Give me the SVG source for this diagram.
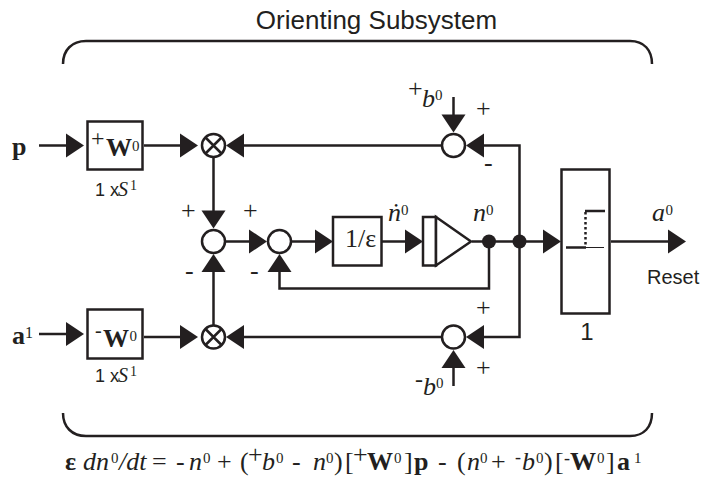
<svg xmlns="http://www.w3.org/2000/svg" width="713" height="481" viewBox="0 0 713 481">
<style>
text{fill:#231f20;font-family:"Liberation Serif",serif}
.s{font-family:"Liberation Sans",sans-serif}
.i{font-style:italic}
.b{font-weight:bold}
.m{font-size:26px}
.u{font-size:15px}
.p{font-size:26px}
.n{font-size:18px;font-family:"Liberation Sans",sans-serif}
.sh{fill:#fff;stroke:#231f20;stroke-width:2.5}
.ln{fill:none;stroke:#231f20;stroke-width:2.5}
.ar{fill:#231f20}
.dot{fill:#231f20}
</style>
<defs>
<polygon id="r" class="ar" points="0,-12 18,0 0,12"/>
<polygon id="l" class="ar" points="0,-12 -18,0 0,12"/>
<polygon id="d" class="ar" points="-12,0 0,18 12,0"/>
<polygon id="t" class="ar" points="-12,0 0,-18 12,0"/>
</defs>
<g id="connectors">
<path class="ln" d="M63,64C63,50 72,41 86,41H630C644,41 652,50 652,64"/>
<path class="ln" d="M63,413C63,427 72,436 86,436H630C644,436 652,427 652,413"/>
<path class="ln" d="M39,145.5H66M144,145.500H180M244,145.500H441M484,145.500H519.500V337H484M441,337H244M144,337H180M39,334H66"/>
<path class="ln" d="M213.500,158V211M213.500,272V325M453.500,97V115M453.500,368V386"/>
<path class="ln" d="M226,241.500H249M292,241.500H315M382,241.500H405M472,241.500H543M611,241.500H668M489,241.500V288.500H279.500V272"/>
<use href="#r" x="66" y="145.500"/><use href="#r" x="180" y="145.500"/><use href="#l" x="244" y="145.500"/><use href="#l" x="484" y="145.500"/>
<use href="#d" x="453.500" y="114.500"/><use href="#d" x="213.500" y="210.500"/><use href="#t" x="213.500" y="272"/><use href="#t" x="279.500" y="272"/>
<use href="#r" x="249" y="241.500"/><use href="#r" x="315" y="241.500"/><use href="#r" x="405" y="241.500"/><use href="#r" x="543" y="241.500"/><use href="#r" x="668" y="241.500"/>
<use href="#r" x="66" y="334"/><use href="#r" x="180" y="337"/><use href="#l" x="244" y="337"/><use href="#l" x="484" y="337"/><use href="#t" x="453.500" y="368"/>
<circle class="dot" cx="489" cy="241.500" r="7"/><circle class="dot" cx="519.500" cy="241.500" r="7"/>
</g>
<g id="title"><text class="s" x="376.500" y="29" font-size="26" text-anchor="middle">Orienting Subsystem</text></g>
<g id="input-p"><text class="b" x="12" y="155" font-size="26">p</text></g>
<g id="input-a"><text class="b" x="12" y="344" font-size="26">a</text><text x="25" y="338" font-size="16">1</text></g>
<g id="w-plus"><rect class="sh" x="87.500" y="121.500" width="55" height="48"/>
<text x="91" y="146" font-size="24">+</text><text class="b" x="106" y="156" font-size="26">W</text><text x="132" y="151" class="u">0</text>
<text class="n" x="95" y="196">1 x</text><text class="i" x="118" y="196" font-size="20">S</text><text x="130" y="190" font-size="14">1</text></g>
<g id="w-minus"><rect class="sh" x="87.500" y="309.500" width="55" height="49"/>
<text x="95" y="337" font-size="20">-</text><text class="b" x="103" y="347" font-size="26">W</text><text x="129.500" y="341" class="u">0</text>
<text class="n" x="95" y="382">1 x</text><text class="i" x="118" y="382" font-size="20">S</text><text x="130" y="376" font-size="14">1</text></g>
<g id="mult-top"><circle class="sh" cx="213.500" cy="145.500" r="11.500"/><path class="ln" d="M205.500,137.500L221.500,153.500M221.500,137.500L205.500,153.500"/></g>
<g id="mult-bottom"><circle class="sh" cx="213.500" cy="337" r="11.500"/><path class="ln" d="M205.500,329L221.500,345M221.500,329L205.500,345"/></g>
<g id="sum-a"><circle class="sh" cx="213.500" cy="241.500" r="11.500"/></g>
<g id="sum-b"><circle class="sh" cx="279.500" cy="241.500" r="11.500"/></g>
<g id="sum-top"><circle class="sh" cx="453.500" cy="145.500" r="11.500"/></g>
<g id="sum-bottom"><circle class="sh" cx="453.500" cy="337" r="11.500"/></g>
<g id="integrator"><rect class="sh" x="333" y="217" width="48.500" height="48.500"/><text x="345" y="247" font-size="26">1/ε</text></g>
<g id="gain"><rect class="sh" x="423" y="217" width="13" height="48.500"/><path class="sh" d="M436,217L471,241.500L436,265.500Z"/></g>
<g id="hardlim"><rect class="sh" x="561.500" y="169.500" width="48" height="144"/>
<path fill="none" stroke="#231f20" stroke-width="2.500" d="M566,247.500H586M585,211H605"/><path fill="none" stroke="#231f20" d="M586,247.500H604"/><path fill="none" stroke="#231f20" stroke-width="2.500" stroke-dasharray="2.500 2.500" d="M585.500,212V247"/>
<text class="s" x="587" y="339.500" font-size="24" text-anchor="middle">1</text></g>
<g id="labels">
<text x="476" y="117" class="p">+</text><text x="484" y="171" font-size="26">-</text>
<text x="181" y="219" class="p">+</text><text x="243" y="219" class="p">+</text>
<text x="185" y="279" font-size="26">-</text><text x="250" y="279" font-size="26">-</text>
<text x="476" y="315.500" class="p">+</text><text x="476" y="375.500" class="p">+</text>
<text x="408" y="97" class="p">+</text><text class="i" x="422" y="107" font-size="26">b</text><text x="435" y="100" class="u">0</text>
<text x="415" y="387" font-size="24">-</text><text class="i" x="423" y="395" font-size="26">b</text><text x="436" y="388" class="u">0</text>
<text class="i" x="388" y="221" font-size="26">ṅ</text><text x="401" y="215" class="u">0</text>
<text class="i" x="473" y="221" font-size="26">n</text><text x="486" y="215" class="u">0</text>
<text class="i" x="652" y="221" font-size="26">a</text><text x="665.500" y="215" class="u">0</text>
<text class="s" x="647" y="283.500" font-size="20">Reset</text>
</g>
<g id="equation">
<text class="m b" y="470" x="65">ε</text><text class="m i" y="470" x="83">dn</text><text class="u" y="463" x="111">0</text><text class="m i" y="470" x="119">/dt</text>
<text class="m" y="470" x="152">=</text>
<text class="m" y="470" x="176">-</text><text class="m i" y="470" x="189">n</text><text class="u" y="463" x="203">0</text>
<text class="m" y="470" x="217">+</text><text class="m" y="470" x="240">(</text><text class="m" y="463" x="248">+</text>
<text class="m i" y="470" x="262">b</text><text class="u" y="463" x="276">0</text><text class="m" y="470" x="292">-</text>
<text class="m i" y="470" x="313">n</text><text class="u" y="463" x="326">0</text><text class="m" y="470" x="334">)</text>
<text class="m" y="470" x="345">[</text><text class="m" y="463" x="353">+</text><text class="m b" y="470" x="367">W</text><text class="u" y="463" x="394">0</text><text class="m" y="470" x="404">]</text>
<text class="m b" y="470" x="414">p</text><text class="m" y="470" x="438">-</text><text class="m" y="470" x="457">(</text>
<text class="m i" y="470" x="467">n</text><text class="u" y="463" x="480">0</text><text class="m" y="470" x="491">+</text>
<text y="463" x="515" font-size="18">-</text><text class="m i" y="470" x="522">b</text><text class="u" y="463" x="536">0</text><text class="m" y="470" x="544">)</text>
<text class="m" y="470" x="555">[</text><text y="464" x="564" font-size="18">-</text><text class="m b" y="470" x="570">W</text><text class="u" y="463" x="597">0</text><text class="m" y="470" x="606">]</text>
<text class="m b" y="470" x="617">a</text><text class="u" y="463" x="634">1</text>
</g>
</svg>
